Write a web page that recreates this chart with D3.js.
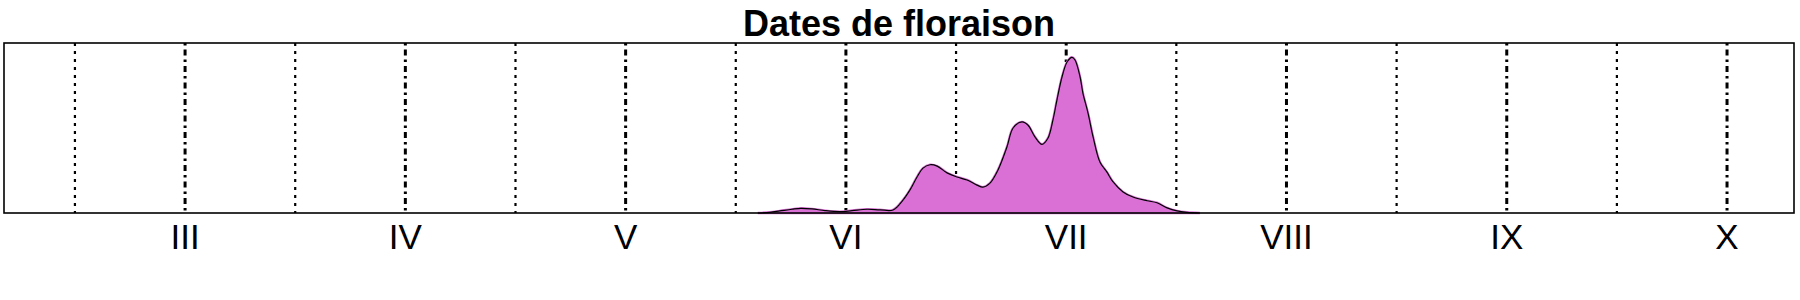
<!DOCTYPE html>
<html>
<head>
<meta charset="utf-8">
<script src="https://cdn.jsdelivr.net/npm/d3@7"></script>
<style>
  body { margin: 0; background: #fff; }
  svg { display: block; font-family: "Liberation Sans", Arial, sans-serif; }
</style>
</head>
<body>
<div id="chart"></div>
<script>
// month ticks (roman numerals) and their positions in month units
const monthLabels = ["III", "IV", "V", "VI", "VII", "VIII", "IX", "X"];
const monthValues = [3, 4, 5, 6, 7, 8, 9, 10];
// mid-month dotted lines
const midValues = [2.5, 3.5, 4.5, 5.5, 6.5, 7.5, 8.5, 9.5];

// density of flowering dates (x in months, y = density per month)
const densMonth = [5.60, 5.655, 5.70, 5.755, 5.796, 5.846, 5.905, 5.973, 6.028, 6.096, 6.155, 6.214,
    6.259, 6.291, 6.323, 6.350, 6.382, 6.414, 6.459, 6.504, 6.550, 6.595, 6.622, 6.654,
    6.690, 6.731, 6.759, 6.799, 6.827, 6.858, 6.890, 6.917, 6.940, 6.958, 6.981, 7.004,
    7.026, 7.040, 7.063, 7.076, 7.099, 7.122, 7.153, 7.185, 7.212, 7.258, 7.303, 7.367,
    7.412, 7.458, 7.503, 7.548, 7.607];
const densValue = [0, 0.01, 0.03, 0.055, 0.069, 0.06, 0.035, 0.02, 0.035, 0.055, 0.047, 0.045,
    0.19, 0.34, 0.53, 0.66, 0.71, 0.69, 0.59, 0.53, 0.485, 0.41, 0.38, 0.44,
    0.63, 0.97, 1.25, 1.34, 1.29, 1.12, 1.01, 1.10, 1.37, 1.66, 2.00, 2.22,
    2.29, 2.25, 2.00, 1.76, 1.47, 1.12, 0.75, 0.60, 0.46, 0.31, 0.235, 0.18,
    0.15, 0.075, 0.03, 0.01, 0];

const title = "Dates de floraison";

class DensityChart {
    constructor(_config) {
        this.config = {
            parentElement: _config.parentElement,
            containerWidth: _config.containerWidth,
            containerHeight: _config.containerHeight,
            margin: _config.margin
        };
        this.data = densMonth.map((m, i) => ({ m: m, d: densValue[i] }));
        this.initVis();
    }

    initVis() {
        let vis = this;
        const m = vis.config.margin;
        vis.width = vis.config.containerWidth - m.left - m.right;
        vis.height = vis.config.containerHeight - m.top - m.bottom;

        vis.xScale = d3.scaleLinear()
            .domain([2.178, 10.304])
            .range([0, vis.width]);
        vis.yScale = d3.scaleLinear()
            .domain([0, 2.5])
            .range([vis.height, 0]);

        vis.svg = d3.select(vis.config.parentElement).append("svg")
            .attr("width", vis.config.containerWidth)
            .attr("height", vis.config.containerHeight);

        vis.chart = vis.svg.append("g")
            .attr("transform", `translate(${m.left},${m.top})`);

        // title
        vis.svg.append("text")
            .attr("x", m.left + vis.width / 2)
            .attr("y", 35.5)
            .attr("text-anchor", "middle")
            .style("font-size", "36px")
            .style("font-weight", "bold")
            .text(title);

        vis.renderVis();
    }

    renderVis() {
        let vis = this;

        // mid-month dotted lines
        vis.chart.selectAll(".mid-line")
            .data(midValues)
            .enter().append("line")
            .attr("class", "mid-line")
            .attr("x1", d => vis.xScale(d))
            .attr("x2", d => vis.xScale(d))
            .attr("y1", 0)
            .attr("y2", vis.height)
            .attr("stroke", "#000")
            .attr("stroke-width", 2.2)
            .attr("stroke-dasharray", "3,5");

        // month dot-dash lines
        vis.chart.selectAll(".month-line")
            .data(monthValues)
            .enter().append("line")
            .attr("class", "month-line")
            .attr("x1", d => vis.xScale(d))
            .attr("x2", d => vis.xScale(d))
            .attr("y1", 0)
            .attr("y2", vis.height)
            .attr("stroke", "#000")
            .attr("stroke-width", 3)
            .attr("stroke-dasharray", "2.5,4,6,4");

        // density area
        const curve = d3.curveCatmullRom.alpha(0.5);
        const area = d3.area()
            .x(d => vis.xScale(d.m))
            .y0(vis.yScale(0))
            .y1(d => vis.yScale(d.d))
            .curve(curve);
        const line = d3.line()
            .x(d => vis.xScale(d.m))
            .y(d => vis.yScale(d.d))
            .curve(curve);

        vis.chart.append("path")
            .datum(vis.data)
            .attr("d", area)
            .attr("fill", "#DA70D6")
            .attr("stroke", "#DA70D6")
            .attr("stroke-width", 2.5);

        vis.chart.append("path")
            .datum(vis.data)
            .attr("d", line)
            .attr("fill", "none")
            .attr("stroke", "#000")
            .attr("stroke-width", 1.2);

        // x axis labels (no ticks)
        vis.chart.selectAll(".month-label")
            .data(monthValues)
            .enter().append("text")
            .attr("class", "month-label")
            .attr("x", d => vis.xScale(d))
            .attr("y", vis.height + 35.5)
            .attr("text-anchor", "middle")
            .style("font-size", "35px")
            .text((d, i) => monthLabels[i]);

        // frame
        vis.chart.append("rect")
            .attr("x", 0)
            .attr("y", 0)
            .attr("width", vis.width)
            .attr("height", vis.height)
            .attr("fill", "none")
            .attr("stroke", "#000")
            .attr("stroke-width", 1.6);
    }
}

const densityChart = new DensityChart({
    parentElement: "#chart",
    containerWidth: 1800,
    containerHeight: 300,
    margin: { top: 43, right: 6, bottom: 87, left: 4 }
});
</script>
</body>
</html>
